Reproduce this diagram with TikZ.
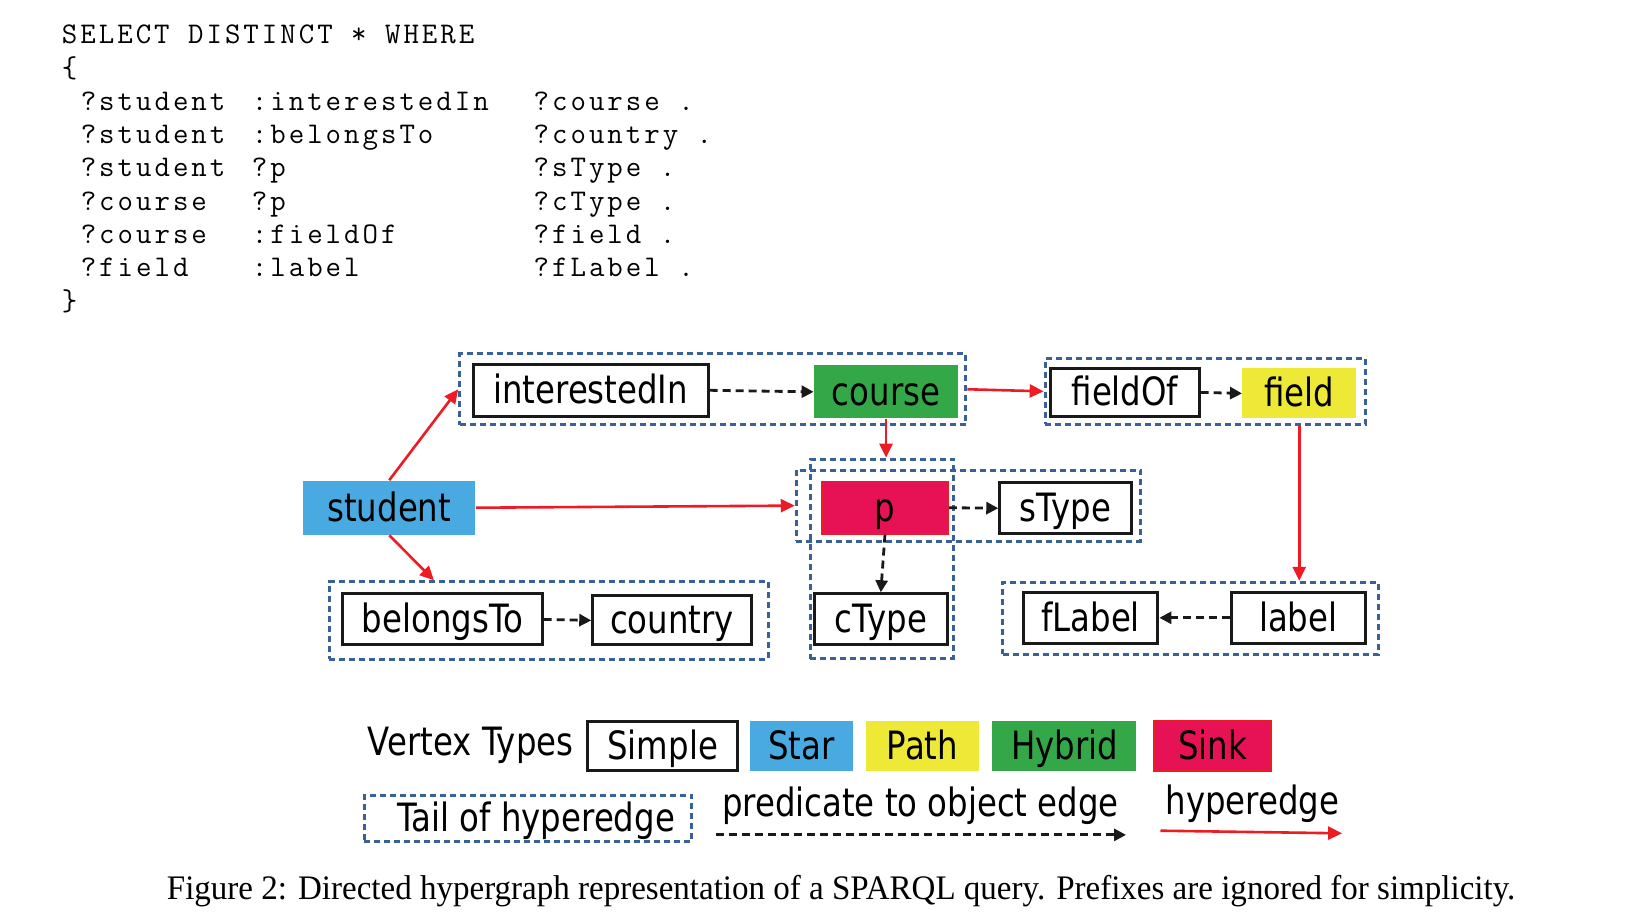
\documentclass[tikz,border=0pt]{standalone}
\usepackage{fontspec}
\usetikzlibrary{arrows.meta,calc}

\newfontfamily\graphfont[FakeStretch=0.83]{DejaVu Sans}
\newfontfamily\codefont[LetterSpace=10]{Latin Modern Mono}
\newfontfamily\capfont[FakeStretch=0.96]{Liberation Serif}

\definecolor{starblue}{RGB}{72,170,224}
\definecolor{pathyellow}{RGB}{238,233,55}
\definecolor{hybridgreen}{RGB}{52,168,73}
\definecolor{sinkred}{RGB}{230,18,85}
\definecolor{edgered}{RGB}{237,28,36}
\definecolor{tailblue}{RGB}{58,96,152}

\tikzset{sz/.style 2 args={minimum width=#1*0.5218pt,minimum height=#2*0.5218pt}}

\begin{document}
\begin{tikzpicture}[x=0.5218pt,y=-0.5218pt]

	\tikzstyle vertex=[inner sep=0pt, font=\graphfont\fontsize{19.5}{23}\selectfont, text height=17.2pt, text depth=3.7pt];
	\tikzstyle simple=[vertex, draw=black!90, fill=white, line width=1.5pt];
	\tikzstyle star=[vertex, fill=starblue];
	\tikzstyle path=[vertex, fill=pathyellow];
	\tikzstyle hybrid=[vertex, fill=hybridgreen];
	\tikzstyle sink=[vertex, fill=sinkred, draw=edgered, line width=0.8pt];
	\tikzstyle tail=[draw=tailblue, line width=1.5pt, dash pattern=on 3pt off 2pt, inner sep=0pt];
	\tikzstyle hyper=[draw=edgered, line width=1.3pt, -{Triangle[length=7pt,width=6.5pt]}];
	\tikzstyle predicate=[draw=black!90, line width=1.4pt, dash pattern=on 4pt off 2.5pt, -{Triangle[length=6pt,width=6pt]}];
	\tikzstyle code=[font=\codefont\fontsize{15}{18}\selectfont, inner sep=0pt, anchor=base west];
	\tikzstyle legend text=[font=\graphfont\fontsize{19.5}{23}\selectfont, inner sep=0pt, anchor=base];

	\useasboundingbox (0,0) rectangle (1560,883.5);

	% query text
	\node[code] (select) at (59,42) {SELECT DISTINCT * WHERE};
	\node[code] (open) at (59,73.9) {\{};
	\foreach \s/\p/\o [count=\i] in {?student/:interestedIn/?course,?student/:belongsTo/?country,?student/?p/?sType,?course/?p/?cType,?course/:fieldOf/?field,?field/:label/?fLabel}
	{
		\node[code] (subj\i) at (77,73.9+31.9*\i) {\s};
		\node[code] (pred\i) at (241,73.9+31.9*\i) {\p};
		\node[code] (obj\i) at (511,73.9+31.9*\i) {\o~.};
	}
	\node[code] (close) at (59,297.2) {\}};

	% tails of hyperedges
	\node[tail, sz={485}{68}] (tailCourse) at (683,373) {};
	\node[tail, sz={307}{63}] (tailField) at (1155,375) {};
	\node[tail, sz={330}{68}] (tailP) at (928,484.5) {};
	\node[tail, sz={137}{191}] (tailPc) at (845,535.5) {};
	\node[tail, sz={421}{74}] (tailCountry) at (526,594.5) {};
	\node[tail, sz={360}{69}] (tailLabel) at (1141,592.5) {};

	% vertices
	\node[simple, sz={225}{50}] (interestedIn) at (566,374) {interestedIn};
	\node[hybrid, sz={138}{51}] (course) at (849,375.5) {course};
	\node[simple, sz={142}{46}] (fieldOf) at (1078,376) {fieldOf};
	\node[path, sz={109}{48}] (field) at (1245,377) {field};
	\node[star, sz={165}{52}] (student) at (373,486.5) {student};
	\node[sink, sz={121}{50}] (p) at (848,486.5) {p};
	\node[simple, sz={126}{49}] (sType) at (1021,487) {sType};
	\node[simple, sz={127}{49}] (cType) at (844,593.5) {cType};
	\node[simple, sz={191}{49}] (belongsTo) at (424,593.5) {belongsTo};
	\node[simple, sz={152}{47}] (country) at (644,594.5) {country};
	\node[simple, sz={129}{49}] (fLabel) at (1045,592) {fLabel};
	\node[simple, sz={128}{49}] (label) at (1244,592) {label};

	% predicate to object edges
	\draw[predicate] (interestedIn.east) -- (course.west);
	\draw[predicate] (fieldOf.east) -- (field.west);
	\draw[predicate] (p.east) -- (sType.west);
	\draw[predicate] (p.south) -- (cType.north);
	\draw[predicate] (belongsTo.east) -- (country.west);
	\draw[predicate] (label.west) -- (fLabel.east);

	% hyperedges
	\draw[hyper] (student.north) -- (tailCourse.west);
	\draw[hyper] (student.east) -- (tailP.west);
	\draw[hyper] (student.south) -- ($(tailCountry.north west)!.24!(tailCountry.north east)$);
	\draw[hyper] (tailCourse.east) -- (tailField.west);
	\draw[hyper] (course.south) -- (course.south |- tailPc.north);
	\draw[hyper] (tailField.south -| field) -- (tailLabel.north -| field);

	% legend
	\node[legend text] (vtypes) at (451,723.5) {Vertex Types};
	\node[simple, sz={144}{47}] (simpleKey) at (635,715) {Simple};
	\node[star, sz={98}{48}] (starKey) at (768,714.5) {Star};
	\node[path, sz={108}{48}] (pathKey) at (884,714.5) {Path};
	\node[hybrid, sz={138}{48}] (hybridKey) at (1020,714.5) {Hybrid};
	\node[sink, sz={112}{48}] (sinkKey) at (1162,714.5) {Sink};

	\node[tail, sz={314}{44}, font=\graphfont\fontsize{19.5}{23}\selectfont, text height=17.2pt, text depth=3.7pt] (tailKey) at (506,784) {\hspace{8pt}Tail of hyperedge};
	\node[legend text] (predText) at (882,782.6) {predicate to object edge};
	\coordinate (predStart) at (686,800);
	\coordinate (predEnd) at (1079,800);
	\draw[predicate] (predStart) -- (predEnd);
	\node[legend text] (hyperText) at (1200,780) {hyperedge};
	\coordinate (hyperStart) at (1112,796);
	\coordinate (hyperEnd) at (1286,798.5);
	\draw[hyper] (hyperStart) -- (hyperEnd);

	% caption
	\node[font=\capfont\fontsize{17.2}{20}\selectfont, inner sep=0pt, anchor=base] (caption) at (806,862) {Figure 2: Directed hypergraph representation of a SPARQL query. Prefixes are ignored for simplicity.};

\end{tikzpicture}
\end{document}
